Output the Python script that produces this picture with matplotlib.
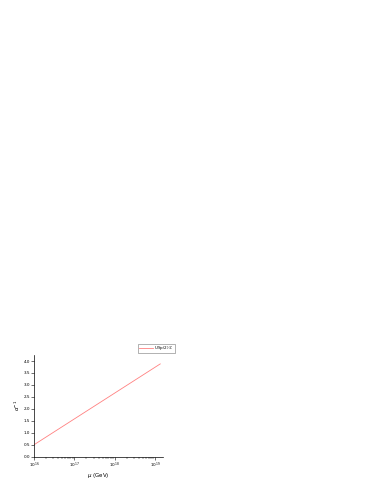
import numpy as np
import matplotlib
matplotlib.use("Agg")
import matplotlib.pyplot as plt

# running coupling, straight line in log(mu)
mu_ends = [1e16, 10 ** 19.13]
alpha_inv_ends = [0.5, 3.88]
legend_label = r"USp(2)$_{3C}$"

fig = plt.figure(figsize=(3.74, 4.84), dpi=100)
ax = fig.add_axes([0.091, 0.0564, 0.345, 0.2100])

ax.plot(mu_ends, alpha_inv_ends, color="#ff8080", linewidth=0.6, label=legend_label)
ax.set_xscale("log")
ax.set_xlim(1e16, 10 ** 19.2)
ax.set_ylim(0, 4.25)
ax.set_xticks([1e16, 1e17, 1e18, 1e19])
ax.set_yticks(np.arange(0, 4.01, 0.5))
ax.set_yticklabels([f"{v:.1f}" for v in np.arange(0, 4.01, 0.5)])

for s in ["top", "right"]:
    ax.spines[s].set_visible(False)
for s in ["left", "bottom"]:
    ax.spines[s].set_linewidth(0.5)
ax.tick_params(labelsize=3, width=0.4, length=2, pad=0.8)
ax.tick_params(which="minor", width=0.3, length=1.2)

ax.set_xlabel(r"$\mu$ (GeV)", fontsize=4, labelpad=0.5)
ax.set_ylabel(r"$\alpha^{-1}$", fontsize=4, labelpad=1.5)

leg = ax.legend(loc="upper right", bbox_to_anchor=(175 / 374, 1 - 343.5 / 484),
                bbox_transform=fig.transFigure, fontsize=3, frameon=True,
                fancybox=False, handlelength=3.5, handletextpad=0.3,
                borderpad=0.15, borderaxespad=0)
leg.get_frame().set_linewidth(0.4)
leg.get_frame().set_edgecolor("#555555")

fig.savefig("out.png", dpi=100)
